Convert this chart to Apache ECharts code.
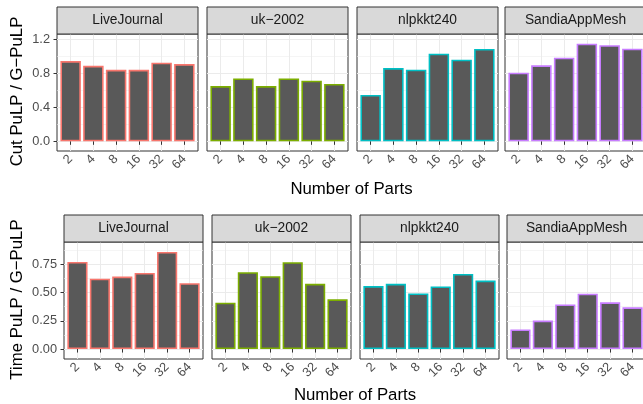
<!DOCTYPE html>
<html><head><meta charset="utf-8">
<script src="https://cdn.jsdelivr.net/npm/echarts@6/dist/echarts.min.js"></script>
<style>html,body{margin:0;padding:0;background:#fff}#c{width:643px;height:404px}</style>
</head><body><div id="c"></div>
<script>
// ---- data ----
const categories = ['2', '4', '8', '16', '32', '64'];
const datasets = ['LiveJournal', 'uk\u22122002', 'nlpkkt240', 'SandiaAppMesh'];
const datasetColors = ['#F8766D', '#7CAE00', '#00BFC4', '#C77CFF'];

const cutLiveJournal   = [0.944, 0.888, 0.841, 0.841, 0.924, 0.909];
const cutUk2002        = [0.650, 0.740, 0.650, 0.740, 0.713, 0.675];
const cutNlpkkt240     = [0.545, 0.862, 0.842, 1.030, 0.960, 1.086];
const cutSandiaAppMesh = [0.807, 0.894, 0.984, 1.148, 1.130, 1.090];

const timeLiveJournal   = [0.770, 0.623, 0.641, 0.673, 0.859, 0.583];
const timeUk2002        = [0.410, 0.680, 0.645, 0.768, 0.577, 0.440];
const timeNlpkkt240     = [0.557, 0.577, 0.492, 0.554, 0.665, 0.606];
const timeSandiaAppMesh = [0.173, 0.252, 0.395, 0.490, 0.413, 0.369];

const cutTicks = [0, 0.4, 0.8, 1.2];
const cutMinorTicks = [0.2, 0.6, 1.0];
const timeTicks = [0, 0.25, 0.5, 0.75];
const timeMinorTicks = [0.125, 0.375, 0.625, 0.875];

const xTitle = 'Number of Parts';
const cutTitle = 'Cut PuLP / G\u2212PuLP';
const timeTitle = 'Time PuLP / G\u2212PuLP';

// ---- layout ----
const rows = [
  { top: 34, height: 117, lefts: [57, 207, 357, 505], width: 141, yMin: -0.114, yMax: 1.2625,
    ticks: cutTicks, minor: cutMinorTicks, digits: 1, title: cutTitle, xTitleY: 189,
    values: [cutLiveJournal, cutUk2002, cutNlpkkt240, cutSandiaAppMesh] },
  { top: 242, height: 117, lefts: [64, 212, 360, 507], width: 139, yMin: -0.088, yMax: 0.947,
    ticks: timeTicks, minor: timeMinorTicks, digits: 2, title: timeTitle, xTitleY: 395,
    values: [timeLiveJournal, timeUk2002, timeNlpkkt240, timeSandiaAppMesh] }
];
const stripH = 27;
const FONT = '"Liberation Sans", Arial, Helvetica, sans-serif';
const positions = categories.map((c, i) => i + 1);

const grid = [], xAxis = [], yAxis = [], series = [], graphic = [];
rows.forEach((row, r) => {
  row.lefts.forEach((left, p) => {
    const gi = grid.length;
    grid.push({ left: left, top: row.top, width: row.width, height: row.height,
      show: true, backgroundColor: '#fff', borderColor: '#333333', borderWidth: 1,
      containLabel: false, outerBoundsMode: 'none' });
    xAxis.push({ type: 'value', gridIndex: gi, min: 0.4, max: 6.6,
      axisLine: { show: false },
      axisTick: { show: true, length: 3.5, customValues: positions, lineStyle: { color: '#333333', width: 1 } },
      axisLabel: { show: true, customValues: positions, rotate: 45, margin: 6, color: '#4D4D4D',
        fontSize: 12.8, fontFamily: FONT, formatter: v => categories[Math.round(v) - 1] || '' },
      splitLine: { show: true, lineStyle: { color: '#EBEBEB', width: 1 } } });
    const yi = yAxis.length;
    yAxis.push({ type: 'value', gridIndex: gi, min: row.yMin, max: row.yMax, position: 'left',
      axisLine: { show: false },
      axisTick: { show: p === 0, length: 3.5, customValues: row.ticks, lineStyle: { color: '#333333', width: 1 } },
      axisLabel: { show: p === 0, customValues: row.ticks, margin: 7, color: '#4D4D4D', fontSize: 12.8,
        fontFamily: FONT, formatter: v => Number(v).toFixed(row.digits) },
      splitLine: { show: true, lineStyle: { color: '#EBEBEB', width: 1 } } });
    yAxis.push({ type: 'value', gridIndex: gi, min: row.yMin, max: row.yMax, position: 'right',
      axisLine: { show: false },
      axisTick: { show: false, customValues: row.minor },
      axisLabel: { show: false, customValues: row.minor },
      splitLine: { show: true, lineStyle: { color: '#EFEFEF', width: 0.6 } } });
    series.push({ type: 'bar', xAxisIndex: gi, yAxisIndex: yi, barWidth: '90%',
      data: row.values[p].map((v, i) => [positions[i], v]),
      itemStyle: { color: '#595959', borderColor: datasetColors[p], borderWidth: 1.6 },
      emphasis: { disabled: true }, silent: true, animation: false });
    // strip
    graphic.push({ type: 'rect', silent: true, z: 10,
      shape: { x: left, y: row.top - stripH, width: row.width, height: stripH },
      style: { fill: '#D9D9D9', stroke: '#333333', lineWidth: 1 } });
    graphic.push({ type: 'text', silent: true, z: 11,
      x: left + row.width / 2, y: row.top - stripH / 2,
      style: { text: datasets[p], fill: '#1A1A1A', font: '13.8px ' + FONT,
        align: 'center', verticalAlign: 'middle', textAlign: 'center', textVerticalAlign: 'middle' } });
  });
  const rowRight = row.lefts[3] + row.width;
  graphic.push({ type: 'text', silent: true, z: 11,
    x: (row.lefts[0] + rowRight) / 2, y: row.xTitleY,
    style: { text: xTitle, fill: '#000', font: '16.8px ' + FONT,
      align: 'center', verticalAlign: 'middle', textAlign: 'center', textVerticalAlign: 'middle' } });
  graphic.push({ type: 'text', silent: true, z: 11, rotation: Math.PI / 2,
    x: 17, y: row.top + row.height / 2 - 1,
    style: { text: row.title, fill: '#000', font: '16.8px ' + FONT,
      align: 'center', verticalAlign: 'middle', textAlign: 'center', textVerticalAlign: 'middle' } });
});

const chart = echarts.init(document.getElementById('c'), null, { renderer: 'canvas' });
chart.setOption({ animation: false, backgroundColor: '#fff', grid, xAxis, yAxis, series, graphic });
</script></body></html>
